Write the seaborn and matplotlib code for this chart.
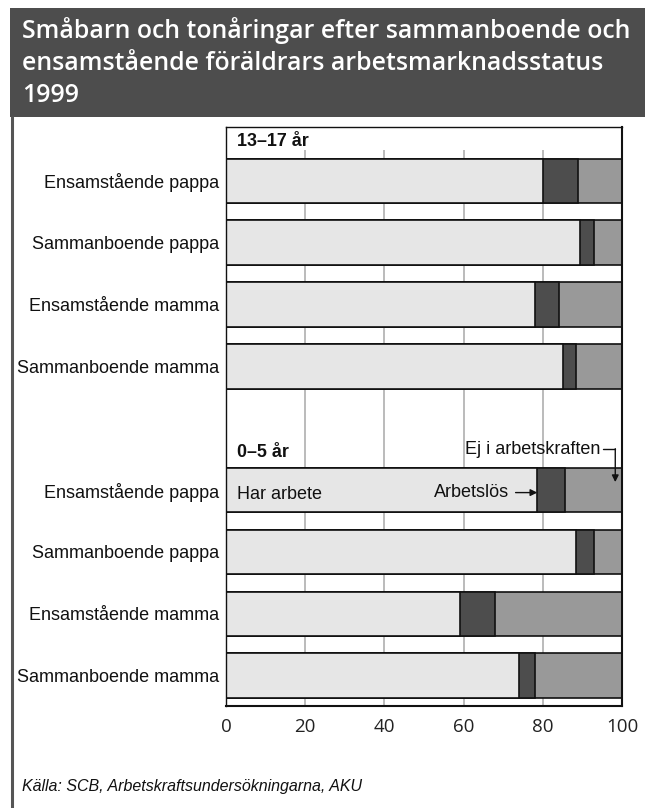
import matplotlib
matplotlib.use("Agg")
import matplotlib.pyplot as plt
import seaborn as sns
import pandas as pd
from matplotlib import font_manager
from matplotlib.patches import Rectangle
from matplotlib.lines import Line2D

# ---------------- data ----------------
groups = ["13–17 år"] * 4 + ["0–5 år"] * 4
categories = ["Ensamstående pappa", "Sammanboende pappa",
              "Ensamstående mamma", "Sammanboende mamma"] * 2
har_arbete = [80, 89.5, 78, 85, 78.5, 88.5, 59, 74]
arbetslos = [9, 3.5, 6, 3.5, 7, 4.5, 9, 4]
ej_i_arbetskraften = [11, 7, 16, 11.5, 14.5, 7, 32, 22]
x_ticks = [0, 20, 40, 60, 80, 100]
title = ("Småbarn och tonåringar efter sammanboende och\n"
         "ensamstående föräldrars arbetsmarknadsstatus\n1999")
source = "Källa: SCB, Arbetskraftsundersökningarna, AKU"

# ---------------- fonts ----------------
sns.set_style("white")
avail = {f.name for f in font_manager.fontManager.ttflist}
NARROW = "Liberation Sans Narrow" if "Liberation Sans Narrow" in avail else "Liberation Sans"
scale = 1.15 if NARROW == "Liberation Sans Narrow" else 1.0
plt.rcParams["font.family"] = [NARROW, "DejaVu Sans"]
LBL = 13 * scale

# ---------------- frame ----------------
W, H = 645, 808
fig = plt.figure(figsize=(W / 100, H / 100), dpi=100)
fig.patch.set_facecolor("white")
fig.patches.append(Rectangle((10 / W, 1 - 117 / H), 1 - 10 / W, 109 / H,
                             transform=fig.transFigure, facecolor="#4d4d4d",
                             edgecolor="none", zorder=0))
fig.add_artist(Line2D([11.5 / W, 11.5 / W], [0, 1 - 117 / H], color="#555555",
                      lw=2.2, transform=fig.transFigure))
fig.text(22 / W, 1 - 17 / H, title, ha="left", va="top", color="white",
         fontsize=17.9, fontweight="semibold", family=["Open Sans", "DejaVu Sans"],
         linespacing=1.36)
fig.text(22 / W, 1 - 786 / H, source, ha="left", va="center", color="#111111",
         fontsize=11.5 * scale, style="italic")

ax = fig.add_axes([226 / W, 1 - 706 / H, (622 - 226) / W, (706 - 127) / H])

# ---------------- bars (stacked via cumulative layers) ----------------
rows = [f"{g}: {c}" for g, c in zip(groups, categories)]
df = pd.DataFrame({"row": rows, "cat": categories,
                   "work": har_arbete, "unemp": arbetslos, "out": ej_i_arbetskraften})
df["c1"] = df["work"]
df["c2"] = df["work"] + df["unemp"]
df["c3"] = df["c2"] + df["out"]
order = rows[:4] + [" "] + rows[4:]

layers = [("c3", "#999999"), ("c2", "#4d4d4d"), ("c1", "#e6e6e6")]
for col, colr in layers:
    sns.barplot(data=df, x=col, y="row", order=order, orient="h", color=colr,
                saturation=1, width=0.72, edgecolor="#111111", linewidth=1.2,
                errorbar=None, ax=ax, zorder=2)

ax.set_ylim(8.49, -0.87)
ax.set_xlim(x_ticks[0], x_ticks[-1])
ax.vlines(x_ticks[1:-1], -0.5, 8.49, color="#a8a8a8", lw=1.1, zorder=0.5)
ax.set_xticks(x_ticks)
ax.set_xticklabels([str(t) for t in x_ticks], family=["Open Sans", "DejaVu Sans"],
                   fontsize=13.5, color="#222222")
ax.set_yticks(range(len(order)))
ax.set_yticklabels(categories[:4] + [""] + categories[4:], fontsize=LBL, color="#111111")
ax.tick_params(axis="both", length=0)
ax.tick_params(axis="x", pad=9)
ax.tick_params(axis="y", pad=5)
ax.set_xlabel("")
ax.set_ylabel("")
for s in ["top", "left"]:
    ax.spines[s].set_linewidth(1.0)
for s in ["right", "bottom"]:
    ax.spines[s].set_linewidth(1.5)
for s in ax.spines.values():
    s.set_color("#111111")
    s.set_visible(True)

# ---------------- labels / annotations ----------------
ax.text(2.8, -0.64, groups[0], ha="left", va="center", fontsize=12.9 * scale,
        fontweight="bold", color="#111111")
ax.text(2.8, 4.39, groups[4], ha="left", va="center", fontsize=12.9 * scale,
        fontweight="bold", color="#111111")
ax.text(2.8, 5.07, "Har arbete", ha="left", va="center", fontsize=LBL, color="#111111")
ax.annotate("Arbetslös", xy=(78.6, 5.04), xytext=(71.6, 5.04),
            ha="right", va="center", fontsize=LBL, color="#111111",
            arrowprops=dict(arrowstyle="-|>", color="#111111", lw=1.0,
                            shrinkA=2, shrinkB=0, mutation_scale=10))
ax.text(94.5, 4.35, "Ej i arbetskraften", ha="right", va="center",
        fontsize=LBL, color="#111111")
ax.plot([95.3, 98.3], [4.33, 4.33], color="#111111", lw=1.0, zorder=5)
ax.annotate("", xy=(98.3, 4.87), xytext=(98.3, 4.33),
            arrowprops=dict(arrowstyle="-|>", color="#111111", lw=1.0,
                            shrinkA=0, shrinkB=0, mutation_scale=10), zorder=5)

fig.savefig("out.png", dpi=100, facecolor="white")
